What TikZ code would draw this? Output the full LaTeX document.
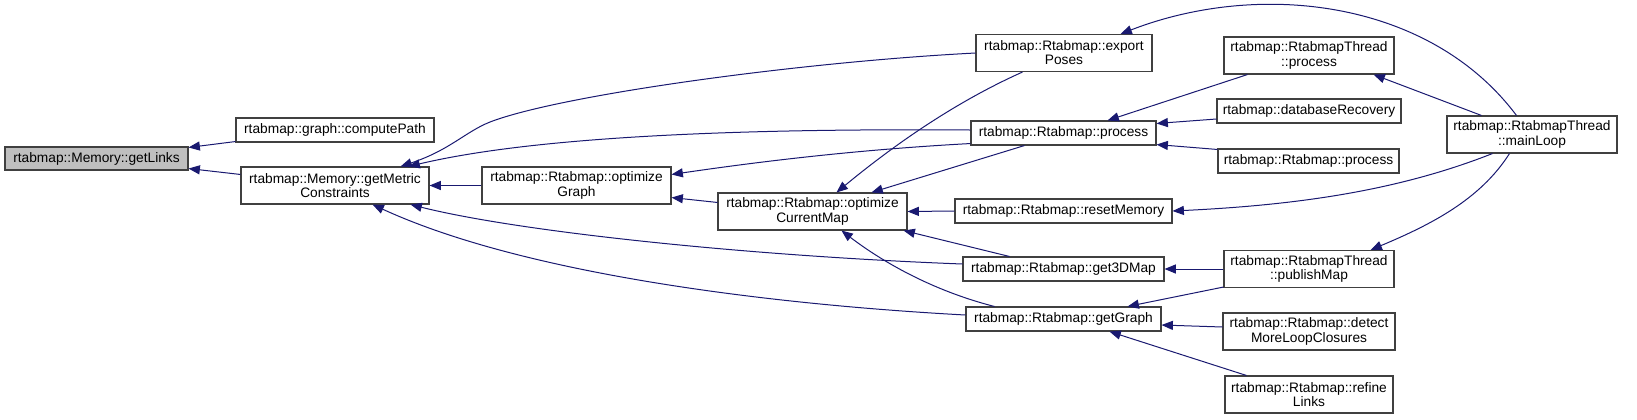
\documentclass[tikz,border=0pt]{standalone}
\usepackage{fontspec}
\setmainfont{Liberation Sans}
\usetikzlibrary{arrows.meta,calc}
\definecolor{edgeblue}{HTML}{191970}
\definecolor{boxline}{HTML}{404040}
\definecolor{grayfill}{HTML}{BFBFBF}
\tikzset{
  box/.style={draw=boxline, line width=0.8pt, fill=white, rectangle, inner sep=0pt, align=center,
    font=\fontsize{10.3}{10.6}\selectfont},
  edge/.style={draw=edgeblue, line width=0.75pt, -{Triangle[length=8.5pt,width=6.8pt]}}
}
\begin{document}
\begin{tikzpicture}[x=0.75pt,y=-0.75pt]
\useasboundingbox (0,0) rectangle (1637,419);
% nodes
\node[box, fill=grayfill, minimum width=137.25pt, minimum height=17.25pt] (getLinks) at (96.5,158.5) {rtabmap::Memory::getLinks};
\node[box, minimum width=148.5pt, minimum height=18pt] (computePath) at (335,130) {rtabmap::graph::computePath};
\node[box, minimum width=141pt, minimum height=27.75pt] (getMetric) at (335,185.5) {rtabmap::Memory::getMetric\\Constraints};
\node[box, minimum width=141.75pt, minimum height=27.75pt] (optGraph) at (576.5,185.5) {rtabmap::Rtabmap::optimize\\Graph};
\node[box, minimum width=141.75pt, minimum height=27.75pt] (optCM) at (812.5,211.5) {rtabmap::Rtabmap::optimize\\CurrentMap};
\node[box, minimum width=132pt, minimum height=27.75pt] (exportPoses) at (1064,53) {rtabmap::Rtabmap::export\\Poses};
\node[box, minimum width=138.75pt, minimum height=18pt] (processMid) at (1063.5,133) {rtabmap::Rtabmap::process};
\node[box, minimum width=162.75pt, minimum height=18pt] (resetMemory) at (1063.5,211) {rtabmap::Rtabmap::resetMemory};
\node[box, minimum width=150.75pt, minimum height=18pt] (get3DMap) at (1063.5,269) {rtabmap::Rtabmap::get3DMap};
\node[box, minimum width=146.25pt, minimum height=18pt] (getGraph) at (1063.5,319) {rtabmap::Rtabmap::getGraph};
\node[box, minimum width=127.5pt, minimum height=27.75pt] (RTP) at (1309,55.5) {rtabmap::RtabmapThread\\::process};
\node[box, minimum width=138pt, minimum height=18pt] (dbRecovery) at (1309,111) {rtabmap::databaseRecovery};
\node[box, minimum width=135.75pt, minimum height=18pt] (processR) at (1308.5,161) {rtabmap::Rtabmap::process};
\node[box, minimum width=127.5pt, minimum height=27.75pt] (mainLoop) at (1532,134.5) {rtabmap::RtabmapThread\\::mainLoop};
\node[box, minimum width=127.5pt, minimum height=27.75pt] (publishMap) at (1309,269) {rtabmap::RtabmapThread\\::publishMap};
\node[box, minimum width=129pt, minimum height=27.75pt] (detect) at (1309,331.5) {rtabmap::Rtabmap::detect\\MoreLoopClosures};
\node[box, minimum width=126pt, minimum height=27.75pt] (refine) at (1309,394.5) {rtabmap::Rtabmap::refine\\Links};
% edges
\draw[edge] ($(computePath.south west)+(0,-1)$) -- ($(getLinks.north east)+(0,1)$);
\draw[edge] ($(getMetric.north west)+(0,8)$) -- ($(getLinks.south east)+(0,-2)$);
\draw[edge] (exportPoses.west) .. controls (800,62) and (560,95) .. (490,122) .. controls (465,132) and (450,150) .. ($(getMetric.north east)+(-29,0)$);
\draw[edge] ($(processMid.west)+(0,-3)$) .. controls (700,128) and (520,140) .. ($(getMetric.north east)+(-21,0)$);
\draw[edge] (optGraph.west) -- (getMetric.east);
\draw[edge] ($(get3DMap.west)+(0,-5)$) .. controls (750,256) and (520,232) .. ($(getMetric.south east)+(-19,0)$);
\draw[edge] ($(getGraph.west)+(0,-4)$) .. controls (780,305) and (528,276) .. ($(getMetric.south east)+(-57,0)$);
\draw[edge] ($(optCM.north west)+(0,10)$) -- ($(optGraph.south east)+(0,-7)$);
\draw[edge] ($(processMid.south west)+(0,-2)$) .. controls (850,150) and (750,163) .. ($(optGraph.north east)+(0,8)$);
\draw[edge] ($(exportPoses.south west)+(47,0)$) .. controls (960,100) and (900,140) .. ($(optCM.north west)+(119,0)$);
\draw[edge] ($(processMid.south west)+(54,0)$) -- ($(optCM.north west)+(154,0)$);
\draw[edge] (resetMemory.west) -- (optCM.east);
\draw[edge] ($(get3DMap.north west)+(47,0)$) -- ($(optCM.south east)+(-4,0)$);
\draw[edge] ($(getGraph.north west)+(29,0)$) .. controls (930,290) and (880,260) .. ($(optCM.south west)+(124,0)$);
\draw[edge] ($(RTP.south west)+(24,0)$) -- ($(processMid.north east)+(-49,0)$);
\draw[edge] ($(dbRecovery.west)+(0,8)$) -- ($(processMid.north east)+(0,3)$);
\draw[edge] ($(processR.north west)+(0,1)$) -- ($(processMid.south east)+(0,-1)$);
\draw[edge] ($(mainLoop.north west)+(35,0)$) -- ($(RTP.south east)+(-21,0)$);
\draw[edge] ($(mainLoop.north west)+(70,0)$) .. controls (1430,0) and (1260,-20) .. ($(exportPoses.north east)+(-32,0)$);
\draw[edge] ($(mainLoop.south west)+(46,0)$) .. controls (1400,190) and (1300,205) .. (resetMemory.east);
\draw[edge] ($(mainLoop.south west)+(63,0)$) .. controls (1480,200) and (1430,225) .. ($(publishMap.north east)+(-24,0)$);
\draw[edge] (publishMap.west) -- (get3DMap.east);
\draw[edge] ($(publishMap.south west)+(0,-1)$) -- ($(getGraph.north east)+(-34,0)$);
\draw[edge] ($(detect.west)+(0,-4.5)$) -- ($(getGraph.east)+(0,6)$);
\draw[edge] ($(refine.north west)+(22,0)$) -- ($(getGraph.south west)+(144,0)$);
\end{tikzpicture}
\end{document}
